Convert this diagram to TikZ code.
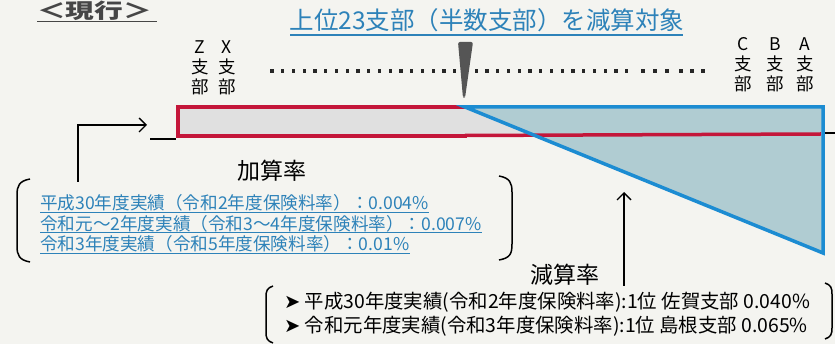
\documentclass[tikz,border=0pt]{standalone}
\usepackage{fontspec}
\setmainfont{Noto Sans CJK JP}
\newfontfamily\cjk{Noto Sans CJK JP}
\newfontfamily\djv{DejaVu Sans}
\usetikzlibrary{arrows.meta}
\definecolor{redc}{RGB}{196,22,58}
\definecolor{bluec}{RGB}{28,140,210}
\definecolor{bluefill}{RGB}{176,204,210}
\definecolor{txtblue}{RGB}{45,130,185}
\definecolor{paper}{RGB}{244,244,240}
\definecolor{rectfill}{RGB}{224,224,224}
\definecolor{wedgec}{RGB}{85,85,85}
\definecolor{titlec}{RGB}{70,70,70}
\tikzset{
  vlabel/.style={align=center, inner sep=0pt, font=\cjk\fontsize{17.5}{20}\selectfont},
  blueline/.style={anchor=base west, inner sep=0pt, text=txtblue, font=\cjk\fontsize{17.6}{20}\selectfont},
  blackline/.style={anchor=base west, inner sep=0pt, font=\cjk\fontsize{19.4}{22}\selectfont},
  ratelabel/.style={inner sep=0pt, font=\cjk\fontsize{23}{26}\selectfont},
  bracket/.style={line width=1.5pt, black},
  dotsq/.style={fill=black!85},
  conn/.style={line width=1.4pt, black, -{Straight Barb[length=7pt,width=14pt,line width=1.4pt]}}
}
\begin{document}
\begin{tikzpicture}[x=1pt,y=-1pt]
\useasboundingbox (0,0) rectangle (835,344);
\fill[paper] (0,0) rectangle (835,344);

% title
\node[anchor=base west, inner sep=0pt, text=titlec, font=\cjk\bfseries\fontsize{20.5}{24}\selectfont] (title) at (37,18.5) {\scalebox{1.4}[1]{＜現行＞}};
\draw[titlec, line width=1.5pt] (37,21.5) -- (157,21.5);

% heading
\node[anchor=base, inner sep=0pt, text=txtblue, font=\cjk\fontsize{24.5}{28}\selectfont] (head) at (487,30) {上位23支部（半数支部）を減算対象};
\draw[txtblue, line width=1.2pt] (290,35) -- (683,35);

% dotted line
\foreach \i in {0,...,33} {\fill[dotsq] ({272+\i*10.75-1.7},69.3) rectangle ++(3.4,3.4);}
\foreach \x in {643,655,667,681,692,703} {\fill[dotsq] (\x-1.7,69.3) rectangle ++(3.4,3.4);}

% wedge marker
\fill[wedgec, rounded corners=2pt] (458,42) -- (473,42) -- (465,98) -- (463,98) -- cycle;

% branch labels
\node[vlabel] (z) at (200,68) {Z\\支\\部};
\node[vlabel] (x) at (227,68) {X\\支\\部};
\node[vlabel] (c) at (743,65) {C\\支\\部};
\node[vlabel] (b) at (775,65) {B\\支\\部};
\node[vlabel] (a) at (805,65) {A\\支\\部};

% red rectangle
\fill[rectfill] (178,107) rectangle (821,136);
\draw[redc, line width=4pt] (467,107) -- (178,107) -- (178,136) -- (467,136);
% blue shape
\fill[bluefill] (465,107) -- (823,107) -- (823,253) -- cycle;
\draw[redc, line width=3.5pt] (465,135.5) -- (821,134);
\draw[bluec, line width=3.5pt, line join=miter] (465,107) -- (823,107) -- (823,253) -- cycle;
% black stubs
\draw[black, line width=1.5pt] (150,139) -- (176,139);
\draw[black, line width=1.5pt] (825,133) -- (835,133);

% left arrow (addition)
\coordinate (ls) at (78,182);
\coordinate (le) at (147,125);
\draw[conn] (ls) |- (le);

% addition rate
\node[ratelabel] (kasan) at (272,171) {加算率};
\node[blueline] (k1) at (40,210) {平成30年度実績（令和2年度保険料率）：0.004\%};
\node[blueline] (k2) at (40,230.5) {令和元～2年度実績（令和3～4年度保険料率）：0.007\%};
\node[blueline] (k3) at (40,251) {令和3年度実績（令和5年度保険料率）：0.01\%};
\foreach \n in {k1,k2,k3} {\draw[txtblue, line width=0.9pt] ([yshift=-2pt]\n.base west) -- ([yshift=-2pt]\n.base east);}
\draw[bracket] (30,179) .. controls (19,181) and (17,186) .. (17,195) -- (17,246) .. controls (17,255) and (19,260) .. (30,262);
\draw[bracket] (499,176) .. controls (510,178) and (512,183) .. (512,192) -- (512,244) .. controls (512,254) and (510,258) .. (499,260);

% up arrow (reduction)
\coordinate (us) at (624,286);
\coordinate (ue) at (624,192);
\draw[conn] (us) -- (ue);

% reduction rate
\node[ratelabel] (gensan) at (565,275) {減算率};
\node[blackline] (g1) at (284,309) {{\djv ➤} 平成30年度実績(令和2年度保険料率):1位 佐賀支部 0.040\%};
\node[blackline] (g2) at (284,333) {{\djv ➤} 令和元年度実績(令和3年度保険料率):1位 島根支部 0.065\%};
\draw[bracket] (273,286) .. controls (267,288) and (266,291) .. (266,297) -- (266,332) .. controls (266,338) and (267,341) .. (273,343);
\draw[bracket] (825,283) .. controls (831,285) and (832,288) .. (832,294) -- (832,328) .. controls (832,334) and (831,337) .. (825,339);
\end{tikzpicture}
\end{document}
